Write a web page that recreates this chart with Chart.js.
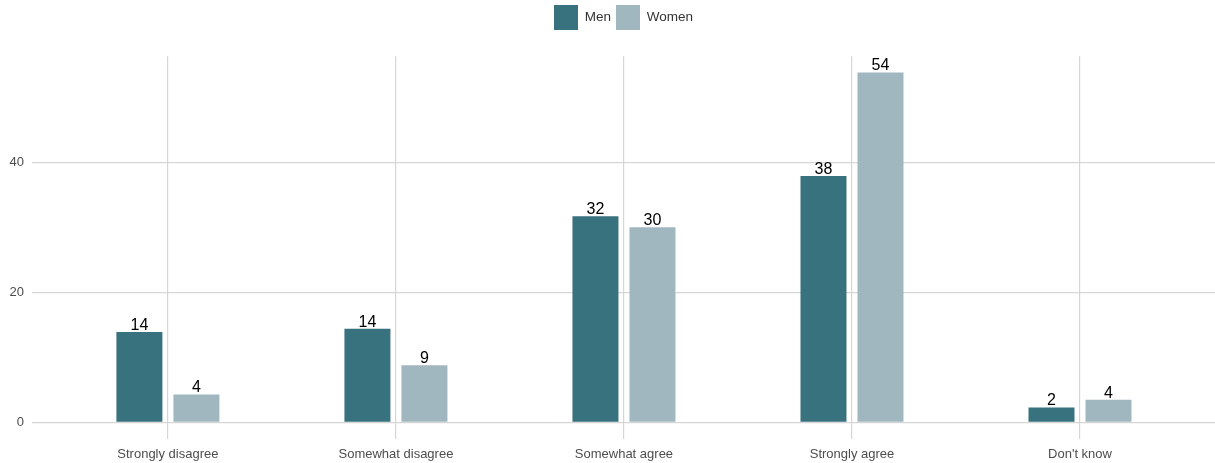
<!DOCTYPE html>
<html>
<head>
<meta charset="utf-8">
<script src="https://cdn.jsdelivr.net/npm/chart.js@4/dist/chart.umd.min.js"></script>
<style>
html,body{margin:0;padding:0;background:#fff;}
#wrap{width:1215px;height:463px;position:relative;}
</style>
</head>
<body>
<div id="wrap"><canvas id="c"></canvas></div>
<script>
const categories = ["Strongly disagree", "Somewhat disagree", "Somewhat agree", "Strongly agree", "Don't know"];
const menValues = [13.9, 14.4, 31.7, 37.9, 2.3];
const womenValues = [4.3, 8.8, 30.0, 53.8, 3.5];
const menLabels = ["14", "14", "32", "38", "2"];
const womenLabels = ["4", "9", "30", "54", "4"];
const yTicks = [0, 20, 40];

const FONT = "'Liberation Sans', Arial, Helvetica, sans-serif";

const dataLabelPlugin = {
  id: 'dataLabels',
  afterDatasetsDraw(chart) {
    const ctx = chart.ctx;
    ctx.save();
    ctx.font = "16px " + FONT;
    ctx.fillStyle = "#000";
    ctx.textAlign = "center";
    ctx.textBaseline = "alphabetic";
    chart.data.datasets.forEach((ds, di) => {
      const meta = chart.getDatasetMeta(di);
      meta.data.forEach((el, i) => {
        ctx.fillText(ds.valueLabels[i], el.x, el.y - 2);
      });
    });
    ctx.restore();
  }
};

new Chart(document.getElementById('c'), {
  type: 'bar',
  data: {
    datasets: [
      {
        label: 'Men',
        data: menValues.map((v, i) => ({x: i, y: v})),
        valueLabels: menLabels,
        backgroundColor: '#39727f',
        categoryPercentage: 0.5,
        barPercentage: 0.807
      },
      {
        label: 'Women',
        data: womenValues.map((v, i) => ({x: i, y: v})),
        valueLabels: womenLabels,
        backgroundColor: '#a1b7c0',
        categoryPercentage: 0.5,
        barPercentage: 0.807
      }
    ]
  },
  options: {
    responsive: true,
    maintainAspectRatio: false,
    animation: false,
    layout: { padding: 0 },
    plugins: {
      tooltip: { enabled: false },
      title: {
        display: true,
        text: '',
        weight: 500,
        font: { size: 1 },
        padding: { top: 0, bottom: 15 }
      },
      legend: {
        display: true,
        position: 'top',
        fullSize: false,
        labels: {
          boxWidth: 24,
          boxHeight: 25,
          padding: 5,
          color: '#333',
          font: { family: FONT, size: 13.5 }
        }
      }
    },
    scales: {
      x: {
        type: 'linear',
        offset: false,
        min: -0.596,
        max: 4.592,
        afterBuildTicks: (s) => { s.ticks = categories.map((c, i) => ({value: i})); },
        afterFit: (s) => { s.height = 24; },
        ticks: {
          autoSkip: false,
          maxRotation: 0,
          padding: 8,
          color: '#4d4d4d',
          font: { family: FONT, size: 13 },
          callback: (v) => categories[v]
        },
        grid: { offset: false, color: '#d6d6d6', lineWidth: 1.2, drawTicks: false },
        border: { display: false }
      },
      y: {
        min: -2.55,
        max: 56.3,
        afterBuildTicks: (s) => { s.ticks = yTicks.map(v => ({value: v})); },
        afterFit: (s) => { s.width = 32; },
        ticks: {
          padding: 8,
          color: '#4d4d4d',
          font: { family: FONT, size: 13 }
        },
        grid: { color: '#d6d6d6', lineWidth: 1.2, drawTicks: false },
        border: { display: false }
      }
    }
  },
  plugins: [dataLabelPlugin]
});
</script>
</body>
</html>
